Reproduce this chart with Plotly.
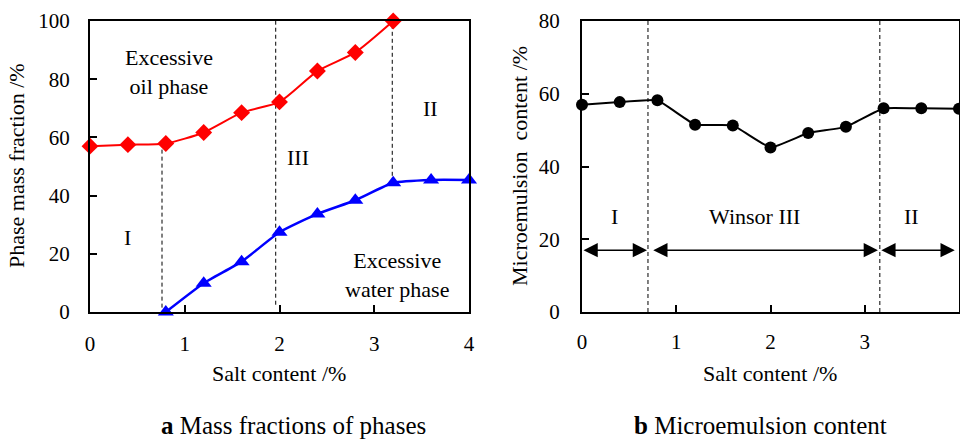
import plotly.graph_objects as go

# ---------------- data ----------------
salt = [0.0, 0.4, 0.8, 1.2, 1.6, 2.0, 2.4, 2.8, 3.2, 3.6, 4.0]

oil_x = [0.0, 0.4, 0.8, 1.2, 1.6, 2.0, 2.4, 2.8, 3.2]
oil_phase = [57.0, 57.5, 57.9, 61.7, 68.5, 72.2, 82.8, 89.2, 100.0]

water_x = [0.8, 1.2, 1.6, 2.0, 2.4, 2.8, 3.2, 3.6, 4.0]
water_phase = [0.0, 9.9, 17.3, 27.4, 33.7, 38.4, 44.4, 45.4, 45.4]

micro_x = salt
micro_content = [57.0, 57.7, 58.2, 51.5, 51.3, 45.2, 49.2, 50.9, 56.0, 56.0, 55.9]

# phase boundaries (salt %), with vertical extents (%)
left_bounds = [0.76, 1.96, 3.19]
left_bound_lo = [1.5, 2.5, 44.4]
left_bound_hi = [57.9, 100.0, 100.0]
right_bounds = [0.70, 3.16]

# region arrows (start, end) in salt %, at this level
arrow_spans = [(0.0, 0.69), (0.74, 3.14), (3.16, 3.955)]
arrow_level = 17.0
region_labels_b = ["I", "Winsor III", "II"]
region_label_x_b = [0.35, 1.83, 3.50]

x_ticks = [0, 1, 2, 3, 4]
y_ticks_a = [0, 20, 40, 60, 80, 100]
y_ticks_b = [0, 20, 40, 60, 80]

FONT = "Liberation Serif"
W, H = 960, 440

fig = go.Figure()

fig.add_trace(go.Scatter(
    x=oil_x, y=oil_phase, mode="lines+markers", xaxis="x", yaxis="y",
    line=dict(color="#ff0000", width=2, shape="spline", smoothing=0.6),
    marker=dict(symbol="diamond", size=13, color="#ff0000"),
    cliponaxis=False, showlegend=False, name="Oil phase"))
fig.add_trace(go.Scatter(
    x=water_x, y=water_phase, mode="lines+markers", xaxis="x", yaxis="y",
    line=dict(color="#0000ff", width=2.5, shape="spline", smoothing=0.5),
    marker=dict(symbol="triangle-up", size=14, color="#0000ff"),
    cliponaxis=False, showlegend=False, name="Water phase"))
fig.add_trace(go.Scatter(
    x=micro_x, y=micro_content, mode="lines+markers", xaxis="x2", yaxis="y2",
    line=dict(color="#000000", width=2, shape="spline", smoothing=0.3),
    marker=dict(symbol="circle", size=12, color="#000000"),
    cliponaxis=False, showlegend=False, name="Microemulsion"))

axis_common = dict(
    showline=True, linecolor="black", linewidth=2, mirror=True,
    ticks="inside", ticklen=7, tickwidth=2, tickcolor="black",
    showgrid=False, zeroline=False, automargin=False,
    tickfont=dict(family=FONT, size=21, color="black"),
)

fig.update_layout(
    width=W, height=H,
    margin=dict(l=0, r=0, t=0, b=0, autoexpand=False),
    paper_bgcolor="white", plot_bgcolor="white",
    xaxis=dict(domain=[90 / W, 469 / W], range=[0, 4], tickvals=x_ticks,
               anchor="y", ticklabelstandoff=12, **axis_common),
    yaxis=dict(domain=[1 - 312 / H, 1 - 21 / H], range=[0, 100], tickvals=y_ticks_a,
               anchor="x", ticklabelstandoff=14, **axis_common),
    xaxis2=dict(domain=[582 / W, 959 / W], range=[0, 4], tickvals=x_ticks,
                anchor="y2", ticklabelstandoff=10, **axis_common),
    yaxis2=dict(domain=[1 - 312 / H, 1 - 21 / H], range=[0, 80], tickvals=y_ticks_b,
                anchor="x2", ticklabelstandoff=16, **axis_common),
)

dash_line = dict(color="black", width=1, dash="4px,3px")
for xb, lo, hi in zip(left_bounds, left_bound_lo, left_bound_hi):
    fig.add_shape(type="line", xref="x", yref="y", x0=xb, x1=xb, y0=lo, y1=hi,
                  line=dash_line, layer="below")
for xb in right_bounds:
    fig.add_shape(type="line", xref="x2", yref="y2", x0=xb, x1=xb, y0=0, y1=80,
                  line=dash_line, layer="below")

txt = dict(family=FONT, size=22, color="black")

# panel a labels
for text, x, y in [("Excessive<br>oil phase", 0.83, 82.5), ("III", 2.2, 53),
                   ("II", 3.59, 70), ("I", 0.4, 25.5),
                   ("Excessive<br>water phase", 3.24, 12.7)]:
    fig.add_annotation(text=text, x=x, y=y, xref="x", yref="y", showarrow=False,
                       font=txt, xanchor="center", yanchor="middle")

# panel b arrows and labels
for (x0, x1) in arrow_spans:
    fig.add_annotation(x=x1, y=arrow_level, ax=x0, ay=arrow_level,
                       xref="x2", yref="y2", axref="x2", ayref="y2",
                       text="", showarrow=True, arrowside="end+start",
                       arrowhead=2, startarrowhead=2, arrowsize=1.9,
                       startarrowsize=1.9, arrowwidth=1.5, arrowcolor="black")
for text, x in zip(region_labels_b, region_label_x_b):
    fig.add_annotation(text=text, x=x, y=26.2, xref="x2", yref="y2", showarrow=False,
                       font=txt, xanchor="center", yanchor="middle")

# axis titles
fig.add_annotation(text="Phase mass fraction /%", x=17 / W, y=1 - 166 / H,
                   xref="paper", yref="paper", showarrow=False, textangle=-90,
                   font=txt, xanchor="center", yanchor="middle")
fig.add_annotation(text="Microemulsion  content /%", x=520 / W, y=1 - 166 / H,
                   xref="paper", yref="paper", showarrow=False, textangle=-90,
                   font=txt, xanchor="center", yanchor="middle")
fig.add_annotation(text="Salt content /%", x=279 / W, y=1 - 373 / H,
                   xref="paper", yref="paper", showarrow=False,
                   font=txt, xanchor="center", yanchor="middle")
fig.add_annotation(text="Salt content /%", x=770 / W, y=1 - 373 / H,
                   xref="paper", yref="paper", showarrow=False,
                   font=txt, xanchor="center", yanchor="middle")

# captions
cap = dict(family=FONT, size=25, color="black")
fig.add_annotation(text="<b>a</b> Mass fractions of phases", x=293 / W, y=1 - 425 / H,
                   xref="paper", yref="paper", showarrow=False,
                   font=cap, xanchor="center", yanchor="middle")
fig.add_annotation(text="<b>b</b> Microemulsion content", x=760 / W, y=1 - 425 / H,
                   xref="paper", yref="paper", showarrow=False,
                   font=cap, xanchor="center", yanchor="middle")

fig.write_html(
    "out.html",
    config={"displayModeBar": False},
    post_script="document.body.style.margin='0';document.body.style.padding='0';"
                "document.body.style.overflow='hidden';",
)
